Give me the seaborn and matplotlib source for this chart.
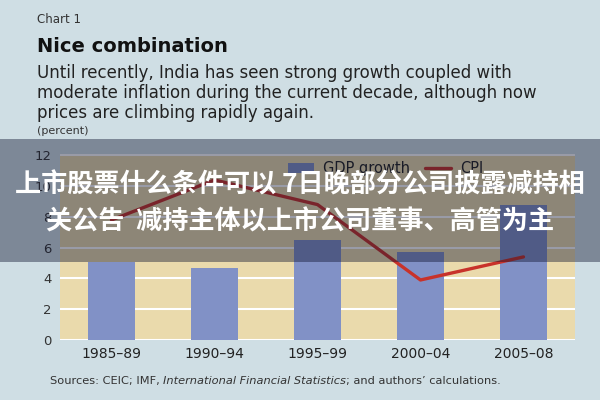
import matplotlib
matplotlib.use("Agg")
import matplotlib.pyplot as plt
import seaborn as sns
import pandas as pd
from matplotlib.patches import Patch, Rectangle
from matplotlib.lines import Line2D

periods = ["1985–89", "1990–94", "1995–99", "2000–04", "2005–08"]
gdp_growth = [5.1, 4.7, 6.5, 5.7, 8.8]
cpi = [7.8, 10.4, 8.8, 3.9, 5.4]
y_ticks = [0, 2, 4, 6, 8, 10, 12]

BG = "#cfdee4"
TAN = "#eadaac"
BAR = "#8191c6"
RED = "#c8322a"

sns.set_theme(style="white")
plt.rcParams["font.family"] = ["DejaVu Sans"]

df = pd.DataFrame({"period": periods, "gdp": gdp_growth, "cpi": cpi})

fig = plt.figure(figsize=(6, 4), dpi=100, facecolor=BG)
ax = fig.add_axes([0.1, 0.15, 0.8583, 0.4655])
ax.set_facecolor(TAN)

sns.barplot(data=df, x="period", y="gdp", color=BAR, saturation=1, width=0.45,
            edgecolor="none", linewidth=0, ax=ax, zorder=2)
sns.pointplot(data=df, x="period", y="cpi", color=RED, markers="", linewidth=2.4,
              ax=ax, zorder=3)

ax.set_xlim(-0.5, 4.5)
ax.set_ylim(0, 12.1)
ax.set_yticks(y_ticks)
ax.set_yticklabels([str(t) for t in y_ticks])
ax.set_axisbelow(True)
ax.yaxis.grid(True, color="white", linewidth=1.5)
ax.xaxis.grid(False)
for s in ax.spines.values():
    s.set_visible(False)
ax.set_xlabel("")
ax.set_ylabel("")
ax.tick_params(axis="y", length=0, pad=6, labelsize=9.5, labelcolor="#333333")
ax.tick_params(axis="x", which="major", length=0, pad=5, labelsize=10, labelcolor="#222222")
ax.set_xticks([i - 0.5 for i in range(len(periods) + 1)], minor=True)
ax.tick_params(axis="x", which="minor", direction="inout", length=5, width=1.5, color="#444444")

handles = [Patch(facecolor=BAR, edgecolor="none"),
           Line2D([0], [0], color=RED, linewidth=2.4)]
ax.legend(handles, ["GDP growth", "CPI"], ncol=2, frameon=False, loc="upper right",
          bbox_to_anchor=(0.847, 1.03), fontsize=10.5, handlelength=1.8, columnspacing=1.0,
          handletextpad=0.6, labelcolor="#222222")

# Titles
fig.text(0.062, 0.952, "Chart 1", fontsize=8.5, color="#333333", va="center")
fig.text(0.062, 0.885, "Nice combination", fontsize=14, fontweight="bold",
         color="#111111", va="center")
sub = ["Until recently, India has seen strong growth coupled with",
       "moderate inflation during the current decade, although now",
       "prices are climbing rapidly again."]
for i, line in enumerate(sub):
    fig.text(0.062, 0.818 - i * 0.05, line, fontsize=12, color="#222222", va="center")
fig.text(0.062, 0.672, "(percent)", fontsize=8, color="#333333", va="center")

# Sources
t1 = fig.text(0.083, 0.047, "Sources: CEIC; IMF, ", fontsize=8.2, color="#333333", va="center")
t2 = fig.text(0, 0, "International Financial Statistics", fontsize=8.2, color="#333333",
              style="italic", va="center")
t3 = fig.text(0, 0, "; and authors\u2019 calculations.", fontsize=8.2, color="#333333", va="center")
fig.canvas.draw()
r = fig.canvas.get_renderer()
bb1 = t1.get_window_extent(r)
t2.set_position(((bb1.x1) / fig.bbox.width, 0.047))
fig.canvas.draw()
bb2 = t2.get_window_extent(r)
t3.set_position(((bb2.x1) / fig.bbox.width, 0.047))

# Overlay band with Chinese caption
fig.patches.append(Rectangle((0, 0.345), 1, 0.3075, transform=fig.transFigure,
                             facecolor=(0.05, 0.07, 0.18), alpha=0.42,
                             edgecolor="none", zorder=10))
cjk = ["Noto Sans CJK SC", "DejaVu Sans"]
fig.text(0.5, 0.5375, "上市股票什么条件可以 7日晚部分公司披露减持相", family=cjk,
         fontsize=18.8, fontweight="bold", color="white", ha="center", va="center", zorder=11)
fig.text(0.5, 0.445, "关公告  减持主体以上市公司董事、高管为主", family=cjk,
         fontsize=18.8, fontweight="bold", color="white", ha="center", va="center", zorder=11)

fig.savefig("out.png", dpi=100, facecolor=BG)
